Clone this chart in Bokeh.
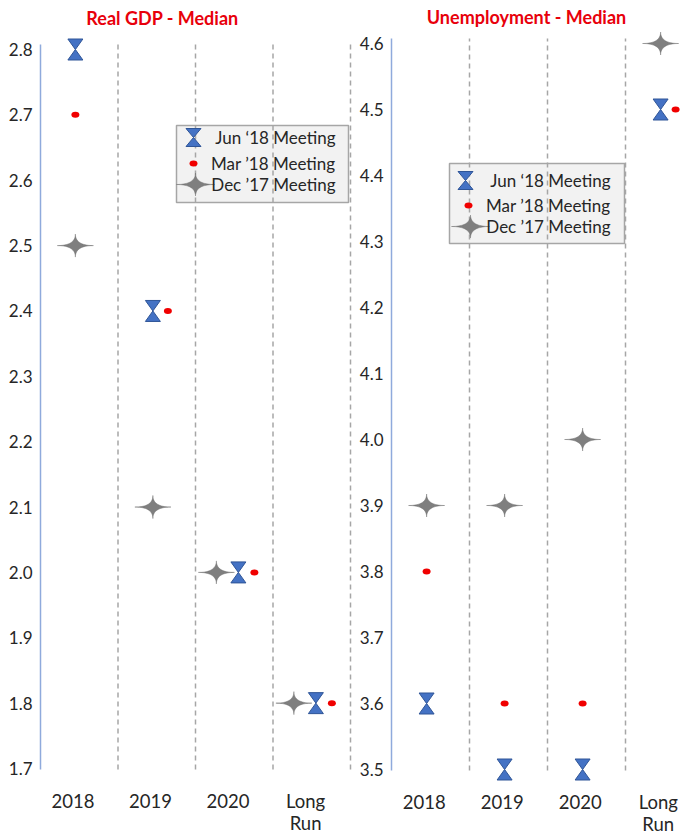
import numpy as np
from bokeh.plotting import figure
from bokeh.layouts import row
from bokeh.models import FixedTicker, Label, PrintfTickFormatter
from bokeh.embed import file_html
from bokeh.resources import INLINE

# ---- data -------------------------------------------------------------
categories = ["2018", "2019", "2020", "Long Run"]

gdp_jun18 = [2.8, 2.4, 2.0, 1.8]
gdp_mar18 = [2.7, 2.4, 2.0, 1.8]
gdp_dec17 = [2.5, 2.1, 2.0, 1.8]
gdp_ticks = [1.7, 1.8, 1.9, 2.0, 2.1, 2.2, 2.3, 2.4, 2.5, 2.6, 2.7, 2.8]

unemp_jun18 = [3.6, 3.5, 3.5, 4.5]
unemp_mar18 = [3.8, 3.6, 3.6, 4.5]
unemp_dec17 = [3.9, 3.9, 4.0, 4.6]
unemp_ticks = [3.5, 3.6, 3.7, 3.8, 3.9, 4.0, 4.1, 4.2, 4.3, 4.4, 4.5, 4.6]

meeting_labels = ["Jun \u201818 Meeting", "Mar \u201918 Meeting", "Dec \u201917 Meeting"]
titles = ["Real GDP - Median", "Unemployment - Median"]

# ---- styling ------------------------------------------------------------
BLUE = "#4472C4"
BLUE_EDGE = "#2F5597"
RED = "#F00000"
GREY = "#7F7F7F"
AXIS_BLUE = "#8FAADC"
DIVIDER = "#A6A6A6"
TITLE_RED = "#E8000B"
TEXT = "#262626"
FONT = "Lato"

HEIGHT = 837
FRAME_TOP = 0          # the plotting frame spans the full height so that
FRAME_BOTTOM = HEIGHT  # titles and category labels can live inside it
MARK_POS = 0.45   # marker anchor inside each category slot
LABEL_POS = 0.42  # category label anchor inside each slot

left_layout = dict(width=352, frame_left=36, origin=40, cat_px=77.5,
                   top_px=49, bottom_px=768, title_xy=(162, 17), label_y=800,
                   legend=dict(box=(176, 125, 348, 202), rows=[137, 163, 184],
                               marker_x=[193, 193, 195], text_right=335))
right_layout = dict(width=330, frame_left=35, origin=39, cat_px=78,
                    top_px=43, bottom_px=769, title_xy=(174, 16), label_y=801,
                    legend=dict(box=(97, 163, 272, 243), rows=[180, 205, 226],
                                marker_x=[113, 116, 118], text_right=258))


def dodge_px(jun, mar, dec):
    """Pixel nudges (jun, mar, dec) for series sharing a value in one slot."""
    if jun == mar == dec:
        return (8, 24, -14)
    if jun == mar:
        return (0, 15, 0)
    return (0, 0, 0)


def hourglass(cx, cy, ppx, ppy, w=7.5, h=10.5):
    top = ([cx - w / ppx, cx + w / ppx, cx], [cy + h / ppy, cy + h / ppy, cy])
    bot = ([cx - w / ppx, cx + w / ppx, cx], [cy - h / ppy, cy - h / ppy, cy])
    return [top, bot]


def four_point_star(cx, cy, ppx, ppy, rx=18.0, ry=11.5, power=4.0, n=96):
    t = np.linspace(0, 2 * np.pi, n, endpoint=False)
    c, s = np.cos(t), np.sin(t)
    xs = cx + rx * np.sign(c) * np.abs(c) ** power / ppx
    ys = cy + ry * np.sign(s) * np.abs(s) ** power / ppy
    return list(xs), list(ys)


def build_panel(title, jun, mar, dec, ticks, lay):
    ppx = lay["cat_px"]
    ppy = (lay["bottom_px"] - lay["top_px"]) / (ticks[-1] - ticks[0])
    frame_w = lay["width"] - lay["frame_left"]
    frame_h = FRAME_BOTTOM - FRAME_TOP
    x0 = -(lay["origin"] - lay["frame_left"]) / ppx
    x1 = x0 + frame_w / ppx
    y1 = ticks[-1] + (lay["top_px"] - FRAME_TOP) / ppy
    y0 = y1 - frame_h / ppy

    def dx(px):
        return x0 + (px - lay["frame_left"]) / ppx

    def dy(py):
        return y1 - (py - FRAME_TOP) / ppy

    p = figure(frame_width=frame_w, frame_height=frame_h,
               x_range=(x0, x1), y_range=(y0, y1),
               x_axis_location=None, output_backend="svg",
               toolbar_location=None,
               min_border_left=lay["frame_left"], min_border_right=0,
               min_border_top=0, min_border_bottom=0)
    p.outline_line_color = None
    p.xgrid.visible = False
    p.ygrid.visible = False
    p.background_fill_color = "white"
    p.border_fill_color = "white"

    ax = p.yaxis[0]
    ax.ticker = FixedTicker(ticks=ticks)
    ax.formatter = PrintfTickFormatter(format="%.1f")
    ax.axis_line_color = None
    ax.major_tick_line_color = None
    ax.minor_tick_line_color = None
    ax.major_tick_out = 0
    ax.major_tick_in = 0
    ax.major_label_standoff = 4
    ax.major_label_text_font = FONT
    ax.major_label_text_font_size = "17px"
    ax.major_label_text_color = TEXT

    # legend panel background
    lg = lay["legend"]
    bl, bt, br, bb = lg["box"]
    p.quad(left=[dx(bl)], right=[dx(br)], top=[dy(bt)], bottom=[dy(bb)],
           fill_color="#F2F2F2", line_color=DIVIDER, line_width=1.5)

    # dashed slot dividers and the value axis line
    top_v = ticks[-1] + 5 / ppy
    bot_v = ticks[0] - 1 / ppy
    divs = [k for k in range(1, len(categories) + 1) if k < x1]
    p.segment(x0=divs, y0=[bot_v] * len(divs), x1=divs, y1=[top_v] * len(divs),
              line_color=DIVIDER, line_width=1.5, line_dash="5 4")
    p.segment(x0=[0], y0=[bot_v], x1=[0], y1=[top_v],
              line_color=AXIS_BLUE, line_width=1.5)

    # markers
    star_xs, star_ys, hg_xs, hg_ys, dot_x, dot_y = [], [], [], [], [], []
    for i in range(len(categories)):
        oj, om, od = dodge_px(jun[i], mar[i], dec[i])
        base = i + MARK_POS
        sx, sy = four_point_star(base + od / ppx, dec[i], ppx, ppy)
        star_xs.append(sx)
        star_ys.append(sy)
        for hx, hy in hourglass(base + oj / ppx, jun[i], ppx, ppy):
            hg_xs.append(hx)
            hg_ys.append(hy)
        dot_x.append(base + om / ppx)
        dot_y.append(mar[i])

    # legend swatches (same shapes, placed in the legend panel)
    r_j, r_m, r_d = lg["rows"]
    m_j, m_m, m_d = lg["marker_x"]
    sx, sy = four_point_star(dx(m_d), dy(r_d), ppx, ppy, rx=19)
    star_xs.append(sx)
    star_ys.append(sy)
    for hx, hy in hourglass(dx(m_j), dy(r_j), ppx, ppy, w=7.5, h=9):
        hg_xs.append(hx)
        hg_ys.append(hy)
    dot_x.append(dx(m_m))
    dot_y.append(dy(r_m))

    p.patches(xs=star_xs, ys=star_ys, fill_color=GREY, line_color="#6E6E6E",
              line_width=0.5)
    p.patches(xs=hg_xs, ys=hg_ys, fill_color=BLUE, line_color=BLUE_EDGE,
              line_width=1)
    p.ellipse(x=dot_x, y=dot_y, width=8 / ppx, height=6 / ppy,
              fill_color=RED, line_color=None)

    for text, ry in zip(meeting_labels, lg["rows"]):
        p.add_layout(Label(x=dx(lg["text_right"]), y=dy(ry), text=text,
                           text_align="right", text_baseline="middle",
                           text_font=FONT, text_font_size="17px",
                           text_color=TEXT))

    # title
    tx, ty = lay["title_xy"]
    p.add_layout(Label(x=dx(tx), y=dy(ty), text=title, text_align="center",
                       text_baseline="middle", text_font=FONT,
                       text_font_size="18px", text_font_style="bold",
                       text_color=TITLE_RED))

    # category labels under each slot
    for i, name in enumerate(categories):
        for j, line in enumerate(name.split(" ")):
            p.add_layout(Label(x=i + LABEL_POS, y=dy(lay["label_y"] + 22 * j),
                               text=line, text_align="center",
                               text_baseline="middle", text_font=FONT,
                               text_font_size="18.5px", text_color=TEXT))
    return p


p_gdp = build_panel(titles[0], gdp_jun18, gdp_mar18, gdp_dec17, gdp_ticks, left_layout)
p_unemp = build_panel(titles[1], unemp_jun18, unemp_mar18, unemp_dec17, unemp_ticks, right_layout)

layout = row(p_gdp, p_unemp)
open("out.html", "w").write(file_html(layout, INLINE))
